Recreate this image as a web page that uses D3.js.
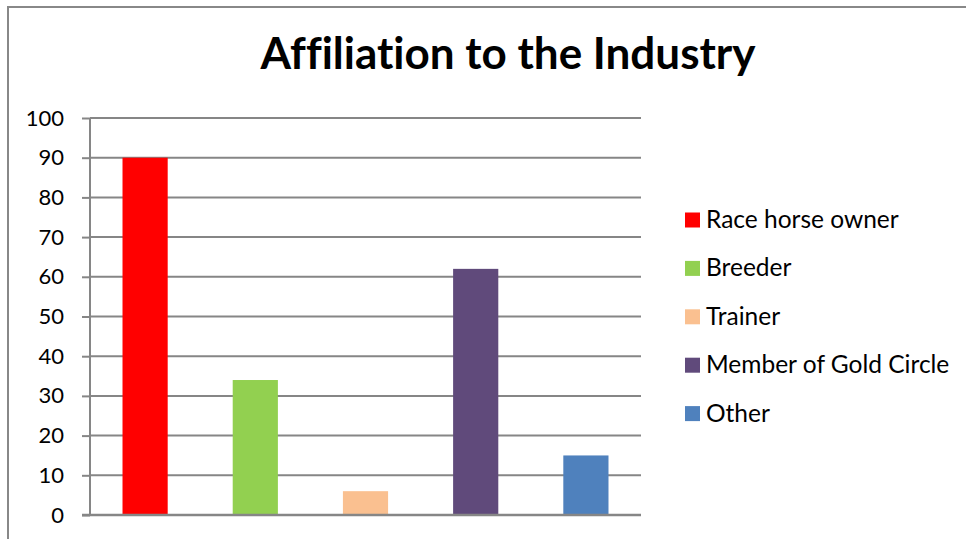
<!DOCTYPE html>
<html>
<head>
<meta charset="utf-8">
<script src="https://cdn.jsdelivr.net/npm/d3@7"></script>
<style>
  html, body { margin: 0; padding: 0; background: #fff; }
  svg { display: block; font-family: Lato, "Open Sans", sans-serif; font-variant-ligatures: none; }
</style>
</head>
<body>
<svg id="chart" width="966" height="539"></svg>
<script>
// Survey responses: affiliation to the industry
const categories = ["Race horse owner", "Breeder", "Trainer", "Member of Gold Circle", "Other"];
const values = [90, 34, 6, 62, 15];
const colors = ["#ff0000", "#92d050", "#fac090", "#604a7b", "#4f81bd"];
const yTicks = [0, 10, 20, 30, 40, 50, 60, 70, 80, 90, 100];
const title = "Affiliation to the Industry";

const svg = d3.select("#chart");
const W = 966, H = 539;
const plot = { left: 90, right: 641, top: 118, bottom: 515 };

// Chart frame
svg.append("path")
  .attr("d", `M8,${H + 2} L8,7 L${W + 2},7`)
  .attr("fill", "none")
  .attr("stroke", "#888")
  .attr("stroke-width", 2);

// Title
svg.append("text")
  .attr("x", 508)
  .attr("y", 69)
  .attr("text-anchor", "middle")
  .attr("font-size", 44)
  .attr("font-weight", "bold")
  .attr("fill", "#000")
  .text(title);

const x = d3.scaleBand()
  .domain(categories)
  .range([plot.left, plot.right])
  .paddingInner(0.59)
  .paddingOuter(0.295);

const y = d3.scaleLinear()
  .domain([0, 100])
  .range([plot.bottom, plot.top]);

// Horizontal gridlines
svg.append("g")
  .selectAll("line")
  .data(yTicks.filter(d => d > 0))
  .join("line")
  .attr("x1", plot.left)
  .attr("x2", plot.right)
  .attr("y1", d => y(d))
  .attr("y2", d => y(d))
  .attr("stroke", "#868686")
  .attr("stroke-width", 2);

// Y axis
const yAxis = svg.append("g")
  .attr("transform", `translate(${plot.left},0)`)
  .call(d3.axisLeft(y).tickValues(yTicks).tickSize(8).tickPadding(18));
yAxis.select(".domain")
  .attr("stroke", "#868686")
  .attr("stroke-width", 2)
  .attr("d", `M0,${plot.bottom}V${plot.top}`);
yAxis.selectAll(".tick line").attr("stroke", "#868686").attr("stroke-width", 2);
yAxis.selectAll(".tick text")
  .attr("font-size", 22)
  .attr("font-family", "Lato, sans-serif")
  .attr("fill", "#000");

// Bars
svg.append("g")
  .selectAll("rect")
  .data(categories)
  .join("rect")
  .attr("x", d => x(d))
  .attr("width", x.bandwidth())
  .attr("y", (d, i) => y(values[i]))
  .attr("height", (d, i) => y(0) - y(values[i]))
  .attr("fill", (d, i) => colors[i]);

// X baseline
svg.append("line")
  .attr("x1", plot.left - 8)
  .attr("x2", plot.right)
  .attr("y1", y(0))
  .attr("y2", y(0))
  .attr("stroke", "#868686")
  .attr("stroke-width", 2.5);

// Legend
const legend = svg.append("g")
  .selectAll("g")
  .data(categories)
  .join("g")
  .attr("transform", (d, i) => `translate(685,${220 + i * 48.4})`);
legend.append("rect")
  .attr("x", 0)
  .attr("y", -7.5)
  .attr("width", 15)
  .attr("height", 15)
  .attr("fill", (d, i) => colors[i]);
legend.append("text")
  .attr("x", 21)
  .attr("y", 8)
  .attr("font-size", 24.5)
  .attr("fill", "#000")
  .text(d => d);
</script>
</body>
</html>
